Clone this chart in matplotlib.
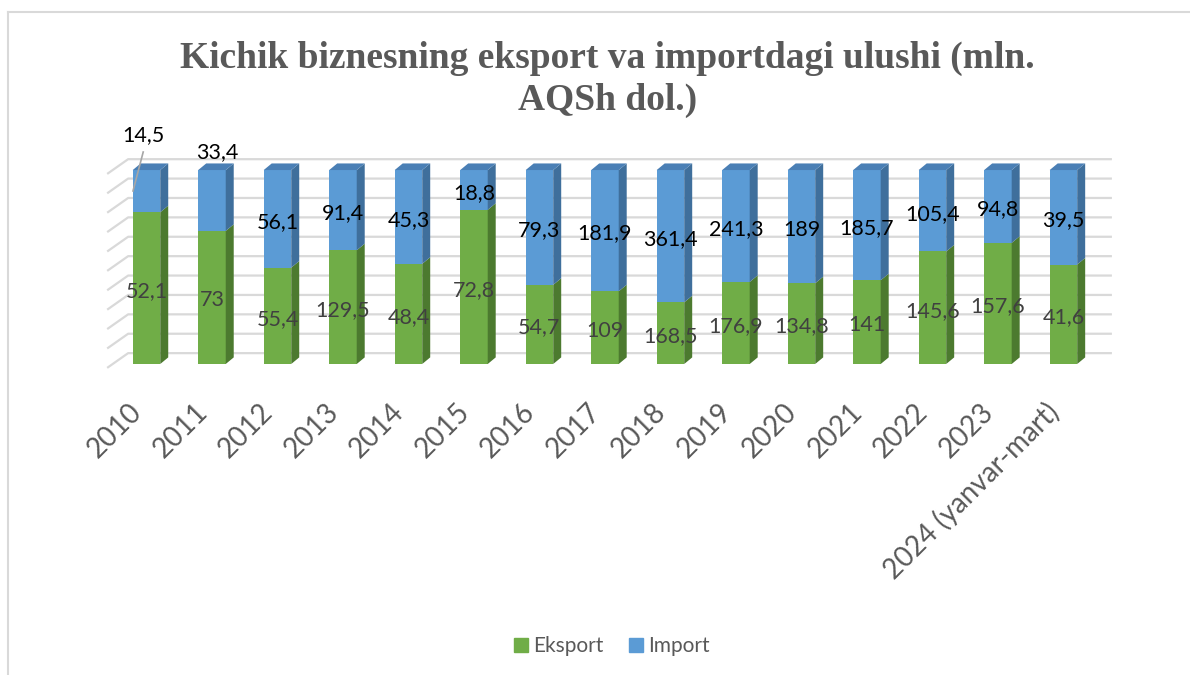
import matplotlib.pyplot as plt
from matplotlib.patches import Polygon, Patch
from matplotlib.lines import Line2D

years = ['2010', '2011', '2012', '2013', '2014', '2015', '2016', '2017',
         '2018', '2019', '2020', '2021', '2022', '2023', '2024 (yanvar-mart)']
eksport = [52.1, 73, 55.4, 129.5, 48.4, 72.8, 54.7, 109, 168.5, 176.9,
           134.8, 141, 145.6, 157.6, 41.6]
imports = [14.5, 33.4, 56.1, 91.4, 45.3, 18.8, 79.3, 181.9, 361.4, 241.3,
           189, 185.7, 105.4, 94.8, 39.5]

green, green_side = '#70ad47', '#4c7a2f'
blue, blue_side, blue_top = '#5b9bd5', '#3f6f9c', '#4a7fb5'
grid_c = '#d9d9d9'
W, DX, DY = 0.42, 0.122, 3.4   # bar width, 3d depth (x units, percent)

def fmt(v):
    return f'{v:g}'.replace('.', ',')

x = list(range(len(years)))
e_pct = [e / (e + i) * 100 for e, i in zip(eksport, imports)]
i_pct = [100 - p for p in e_pct]

fig = plt.figure(figsize=(11.9, 6.75), dpi=100)
ax = fig.add_axes([95 / 1190, 1 - 380 / 675, 1030 / 1190, 260 / 675])
ax.set_xlim(-0.786, 14.94)
ax.set_ylim(-8.25, 125.8)
ax.axis('off')

# back wall grid
for p in range(0, 101, 10):
    ax.plot([-0.60, -0.28, 14.74], [p - 2, p + 5.6, p + 5.6],
            color=grid_c, lw=1.6, zorder=0, solid_capstyle='butt')

ax.bar(x, e_pct, width=W, color=green, zorder=2)
ax.bar(x, i_pct, bottom=e_pct, width=W, color=blue, zorder=2)

for xi, ep in zip(x, e_pct):
    r = xi + W / 2
    for b, t, c in [(0, ep, green_side), (ep, 100, blue_side)]:
        ax.add_patch(Polygon([(r, b), (r + DX, b + DY), (r + DX, t + DY), (r, t)],
                             closed=True, color=c, lw=0, zorder=2))
    ax.add_patch(Polygon([(xi - W / 2, 100), (xi - W / 2 + DX, 100 + DY),
                          (r + DX, 100 + DY), (r, 100)],
                         closed=True, color=blue_top, lw=0, zorder=2))

lab_font = dict(family='Lato', fontsize=15.5)
outside = {0: (-0.05, 118), 1: (0.08, 109)}
for xi, ep, e, i in zip(x, e_pct, eksport, imports):
    ax.text(xi, ep / 2 - 1.5, fmt(e), ha='center', va='center',
            color='#404040', zorder=5, **lab_font)
    if xi in outside:
        ox, oy = outside[xi]
        ax.text(xi + ox, oy, fmt(i), ha='center', va='center',
                color='black', zorder=5, clip_on=False, **lab_font)
    else:
        ax.text(xi, (ep + 100) / 2 - 1.5, fmt(i), ha='center', va='center',
                color='black', zorder=5, **lab_font)
# leader line for 2010 import label
ax.plot([-0.05, -0.206], [109.3, 89.2], color='#a6a6a6', lw=1.2, zorder=6)

for xi, yr in zip(x, years):
    ax.text(xi - 0.13, -22.7, yr, rotation=45, rotation_mode='anchor',
            ha='right', va='center', family='Lato', fontsize=20,
            color='#595959', clip_on=False)

tfont = dict(family='Liberation Serif', fontweight='bold', fontsize=27,
             color='#595959', ha='center', va='baseline')
fig.text(607.5 / 1190, 1 - 68 / 675, 'Kichik biznesning eksport va importdagi ulushi (mln.', **tfont)
fig.text(607.5 / 1190, 1 - 110 / 675, 'AQSh dol.)', **tfont)

handles = [Patch(color=green, label='Eksport'), Patch(color=blue, label='Import')]
fig.legend(handles=handles, loc='center', bbox_to_anchor=(612 / 1190, 1 - 646 / 675),
           ncol=2, frameon=False, prop={'family': 'Lato', 'size': 15},
           labelcolor='#595959', handlelength=0.67, handleheight=0.67,
           handletextpad=0.25, columnspacing=1.2)

# frame of the embedded chart
fig.add_artist(Line2D([8 / 1190, 1], [1 - 12 / 675, 1 - 12 / 675],
                      transform=fig.transFigure, color=grid_c, lw=1.5))
fig.add_artist(Line2D([8 / 1190, 8 / 1190], [0, 1 - 12 / 675],
                      transform=fig.transFigure, color=grid_c, lw=1.5))

fig.savefig('out.png', dpi=100)
